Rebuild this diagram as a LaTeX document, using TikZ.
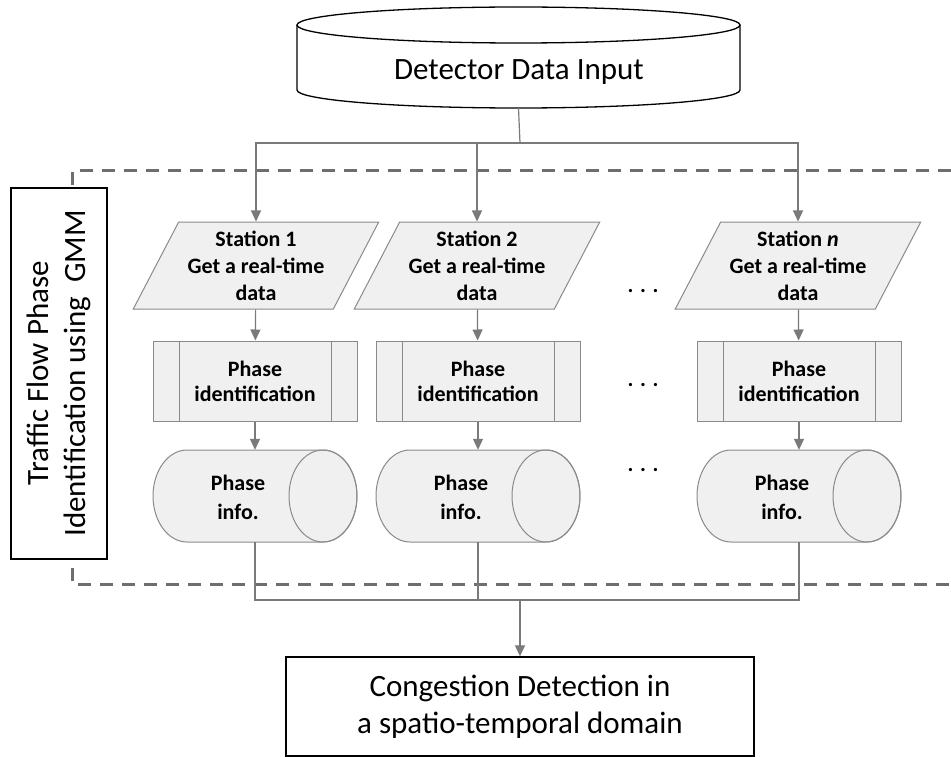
\documentclass[tikz,border=0pt]{standalone}
\usepackage{fontspec}
\setmainfont{Carlito}
\usetikzlibrary{shapes.geometric,arrows.meta}
\definecolor{linegray}{HTML}{7A7A7A}
\definecolor{boxgray}{HTML}{F0F0F0}
\definecolor{edgegray}{HTML}{8A8A8A}
\definecolor{dashgray}{HTML}{6E6E6E}
\begin{document}
\begin{tikzpicture}[x=1pt, y=-1pt,
    big/.style={font=\fontsize{31}{37}\selectfont, align=center},
    small/.style={font=\fontsize{22}{27}\selectfont\bfseries, align=center},
    station/.style={small, shape=trapezium, trapezium left angle=60, trapezium right angle=120,
      trapezium stretches=true, draw=edgegray, fill=boxgray, line width=1pt,
      minimum width=246pt, minimum height=87pt, inner sep=0pt},
    process/.style={small, font=\fontsize{22}{25}\selectfont\bfseries,
      draw=edgegray, fill=boxgray, line width=1pt,
      minimum width=204pt, minimum height=80pt, inner sep=0pt,
      path picture={
        \draw[edgegray, line width=1pt] ([xshift=26pt]path picture bounding box.north west) -- ([xshift=26pt]path picture bounding box.south west);
        \draw[edgegray, line width=1pt] ([xshift=-26pt]path picture bounding box.north east) -- ([xshift=-26pt]path picture bounding box.south east);
      }},
    info/.style={small, font=\fontsize{22}{29}\selectfont\bfseries,
      minimum width=204pt, minimum height=92pt, inner sep=0pt},
    dots/.style={font=\fontsize{22}{22}\selectfont\bfseries},
    conn/.style={draw=linegray, line width=1.2pt},
    arr/.style={conn, -{Triangle[length=11pt, width=10pt]}},
  ]
  \useasboundingbox (0,0) rectangle (951,757);

  % dashed frame of the GMM part
  \draw[dashgray, line width=3pt, dash pattern=on 13pt off 9pt] (951,171) -- (72,171) -- (72,584) -- (951,584);

  % data input disc
  \draw[black, line width=1.3pt, fill=white] (297,25) -- (297,90) arc[start angle=180, end angle=360, x radius=221.5pt, y radius=18pt] -- (740,25);
  \draw[black, line width=1.3pt, fill=white] (518.5,25) ellipse[x radius=221.5pt, y radius=18pt];
  \node[big, minimum width=443pt, minimum height=101pt, inner sep=0pt] (input) at (518.5,57.5) {};
  \node[big] (inputtext) at (519,72) {Detector Data Input};

  % stations
  \node[station] (st1) at (256,265.5) {Station 1\\Get a real-time\\data};
  \node[station] (st2) at (477,265.5) {Station 2\\Get a real-time\\data};
  \node[station] (stn) at (798,265.5) {Station \emph{n}\\Get a real-time\\data};

  \node[process] (pid1) at (255,381) {Phase\\identification};
  \node[process] (pid2) at (478,381) {Phase\\identification};
  \node[process] (pidn) at (799,381) {Phase\\identification};

  % phase info drums
  \foreach \cx in {255,478,799} {
    \draw[edgegray, line width=1pt, fill=boxgray] (\cx+68,450) -- (\cx-68,450)
      arc[start angle=90, end angle=270, x radius=34pt, y radius=46pt] -- (\cx+68,542)
      arc[start angle=270, end angle=450, x radius=34pt, y radius=46pt];
    \draw[edgegray, line width=1pt] (\cx+68,496) ellipse[x radius=34pt, y radius=46pt];
  }
  \node[info] (pi1) at (255,496) {};
  \node[info] (pi2) at (478,496) {};
  \node[info] (pin) at (799,496) {};
  \node[info, minimum width=0pt, minimum height=0pt] at (238,497) {Phase\\info.};
  \node[info, minimum width=0pt, minimum height=0pt] at (461,497) {Phase\\info.};
  \node[info, minimum width=0pt, minimum height=0pt] at (782,497) {Phase\\info.};

  \node[dots] (dots1) at (643,291) {. . .};
  \node[dots] (dots2) at (643,385) {. . .};
  \node[dots] (dots3) at (643,470) {. . .};

  % label box
  \node[big, draw=black, fill=white, line width=1.3pt, rotate=90,
    minimum width=371pt, minimum height=96pt, inner sep=0pt] (gmm) at (59,373.5)
    {Traffic Flow Phase\\Identification using~~GMM};

  \node[big, draw=black, line width=1.3pt, minimum width=468pt, minimum height=99pt,
    inner sep=0pt] (cong) at (520,706.5) {Congestion Detection in\\a spatio-temporal domain};

  \coordinate (split) at (520,143);
  \coordinate (merge) at (520,600);

  \draw[conn] (input.south) -- (split);
  \draw[arr] (split) -| (st1.north);
  \draw[arr] (split) -| (st2.north);
  \draw[arr] (split) -| (stn.north);

  \draw[arr] (st1) -- (pid1);
  \draw[arr] (st2) -- (pid2);
  \draw[arr] (stn) -- (pidn);
  \draw[arr] (pid1) -- (pi1);
  \draw[arr] (pid2) -- (pi2);
  \draw[arr] (pidn) -- (pin);

  \draw[conn] (pi1.south) |- (merge);
  \draw[conn] (pi2.south) |- (merge);
  \draw[conn] (pin.south) |- (merge);
  \draw[arr] (merge) -- (cong);
\end{tikzpicture}
\end{document}
